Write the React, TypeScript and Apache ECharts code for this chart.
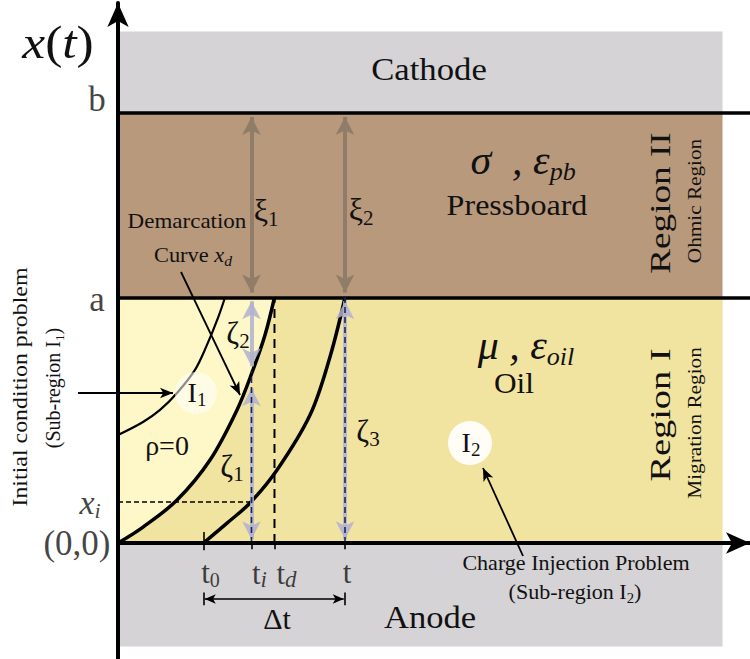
import React, { useEffect, useRef } from "react";
import * as echarts from "echarts";

// ---- data (physical diagram values) ----
const A_LEVEL = 1; // x = a  (oil / pressboard interface)
const B_LEVEL = 1.754; // x = b  (pressboard / cathode)
const CATHODE_TOP = 2.084;
const ANODE_BOTTOM = -0.422;
const REGION_END = 9.565;
const T_AXIS_MAX = 10;

const timeNames = ["t0", "ti", "td", "t"];
const timeValues = [1.353, 2.112, 2.476, 3.592];
const xiLevel = 0.167;

const demarcationT = [0, 0.396, 0.934, 1.456, 1.883, 2.136, 2.326, 2.476];
const demarcationX = [0, 0.065, 0.175, 0.338, 0.542, 0.705, 0.847, 1];

const chargeT = [1.353, 1.725, 2.089, 2.516, 3.038, 3.354, 3.592];
const chargeX = [0, 0.081, 0.163, 0.297, 0.521, 0.758, 1];

const rhoZeroT = [0, 0.396, 0.665, 0.934, 1.218, 1.408, 1.582, 1.693];
const rhoZeroX = [0.44, 0.493, 0.542, 0.611, 0.705, 0.807, 0.917, 1];

const xiArrowRange = [1.02, 1.735];
const zeta2Range = [0.72, 0.985];
const zeta1Range = [0.015, 0.63];
const zeta3Range = [0.015, 0.985];
const navyTiRange = [0, 0.7];
const navyTRange = [0, 1];
const deltaTLevel = -0.228;

// ---- layout ----
const W = 750;
const H = 659;
const GRID_LEFT = 118;
const GRID_TOP = 3;
const ORIGIN_Y = 543;
const UNIT_Y = 245.5;
const Y_MAX = (ORIGIN_Y - GRID_TOP) / UNIT_Y;
const Y_MIN = -(H - ORIGIN_Y) / UNIT_Y;

const SERIF = "'Liberation Serif', 'Times New Roman', serif";
const C = {
  gray: "#d5d3d5",
  brown: "#b9997b",
  oilDark: "#f1e4a0",
  oilLight: "#fef8c8",
  xi: "#8f7d6a",
  zeta: "rgba(176,178,206,0.85)",
  navy: "#1c2466",
  ink: "#111",
};

const zip = (a: number[], b: number[]) => a.map((v, i) => [v, b[i]]);

const subRich = (main: number, sub: number, italicMain = false, italicSub = false, drop = 0.7) => ({
  m: { fontSize: main, fontFamily: SERIF, fontStyle: italicMain ? "italic" : "normal", lineHeight: main + 6, color: C.ink },
  s: {
    fontSize: sub,
    fontFamily: SERIF,
    fontStyle: italicSub ? "italic" : "normal",
    verticalAlign: "bottom",
    lineHeight: Math.round(sub * drop),
    color: C.ink,
  },
  si: { fontSize: sub, fontFamily: SERIF, fontStyle: "italic", verticalAlign: "bottom", lineHeight: Math.round(sub * drop), color: C.ink },
  n: { fontSize: main, fontFamily: SERIF, lineHeight: main + 6, color: C.ink },
});

function txt(x: number, y: number, text: string, size: number, opts: any = {}) {
  return {
    type: "text",
    x,
    y,
    z: 100,
    rotation: opts.rotation || 0,
    scaleX: opts.scaleX || 1,
    style: {
      text,
      fill: C.ink,
      font: `${opts.italic ? "italic " : ""}${size}px ${SERIF}`,
      fontSize: size,
      fontFamily: SERIF,
      fontStyle: opts.italic ? "italic" : "normal",
      align: "center",
      verticalAlign: "middle",
      rich: opts.rich,
    },
  };
}

function buildOption() {
  const vSeg = (t: number, r: number[]) => [{ coord: [t, r[0]] }, { coord: [t, r[1]] }];
  const ROT = Math.PI / 2;

  const graphic: any[] = [
    txt(58, 42, "{i|x}{n|(}{i|t}{n|)}", 46, {
      scaleX: 1.12,
      rich: {
        i: { fontSize: 46, fontFamily: SERIF, fontStyle: "italic", color: C.ink },
        n: { fontSize: 46, fontFamily: SERIF, color: C.ink },
      },
    }),
    txt(429, 70, "Cathode", 31, { scaleX: 1.12 }),
    txt(430, 617, "Anode", 32, { scaleX: 1.08 }),
    txt(523, 160, "{m|σ  , ε}{s|pb}", 42, { rich: subRich(42, 26, true, true) }),
    txt(517, 205, "Pressboard", 30, { scaleX: 1.07 }),
    txt(526, 345, "{m|μ , ε}{s|oil}", 42, { rich: subRich(42, 26, true, true, 0.9) }),
    txt(514, 383, "Oil", 29, { scaleX: 1.08 }),
    txt(660, 203, "Region II", 30, { rotation: ROT, scaleX: 1.24 }),
    txt(695, 201, "Ohmic Region", 18, { rotation: ROT, scaleX: 1.18 }),
    txt(660, 415, "Region I", 30, { rotation: ROT, scaleX: 1.28 }),
    txt(695, 423, "Migration Region", 18, { rotation: ROT, scaleX: 1.18 }),
    txt(266, 210, "{m|ξ}{s|1}", 32, { rich: subRich(32, 21) }),
    txt(361, 209, "{m|ξ}{s|2}", 32, { rich: subRich(32, 21) }),
    txt(187, 222, "Demarcation", 20, { scaleX: 1.15 }),
    txt(193, 255, "{n|Curve }{m|x}{si|d}", 20, { scaleX: 1.12, rich: subRich(20, 14, true, true) }),
    txt(238, 333, "{m|ζ}{s|2}", 31, { rich: subRich(31, 21) }),
    txt(232, 466, "{m|ζ}{s|1}", 31, { rich: subRich(31, 21) }),
    txt(368, 431, "{m|ζ}{s|3}", 31, { rich: subRich(31, 21) }),
    txt(167, 445, "ρ=0", 28),
    {
      type: "circle",
      z: 90,
      shape: { cx: 196, cy: 393, r: 21 },
      style: { fill: "rgba(255,255,255,0.55)" },
    },
    txt(197, 392, "{m|I}{s|1}", 28, { rich: subRich(28, 19) }),
    {
      type: "circle",
      z: 90,
      shape: { cx: 470, cy: 443, r: 22 },
      style: { fill: "#fffdf5" },
    },
    txt(471, 442, "{m|I}{s|2}", 28, { rich: subRich(28, 19) }),
    txt(20, 387, "Initial condition problem", 21, { rotation: ROT, scaleX: 1.14 }),
    txt(53, 388, "{n|(Sub-region I}{s|1}{n|)}", 20, { rotation: ROT, rich: subRich(20, 13) }),
    txt(576, 563, "Charge Injection Problem", 21, { scaleX: 1.05 }),
    txt(575, 592, "{n|(Sub-region I}{s|2}{n|)}", 21, { scaleX: 1.05, rich: subRich(21, 14) }),
    txt(277, 618, "Δt", 30),
  ];

  const timeLabelFmt: Record<string, string> = {
    t0: "{m|t}{s|0}",
    ti: "{m|t}{si|i}",
    td: "{m|t}{si|d}",
    t: "{m|t}",
  };
  const timeLabelOffset: Record<string, number[]> = {
    t0: [7, 29],
    ti: [8, 30],
    td: [12, 30],
    t: [2, 29],
  };
  const labelRich = {
    m: { fontSize: 31, fontFamily: SERIF, lineHeight: 36, color: C.ink },
    s: { fontSize: 20, fontFamily: SERIF, verticalAlign: "bottom", lineHeight: 14, color: C.ink },
    si: { fontSize: 23, fontFamily: SERIF, fontStyle: "italic", verticalAlign: "bottom", lineHeight: 16, color: C.ink },
    it: { fontSize: 34, fontFamily: SERIF, fontStyle: "italic", lineHeight: 38, color: C.ink },
    bi: { fontSize: 22, fontFamily: SERIF, fontStyle: "italic", verticalAlign: "bottom", lineHeight: 15, color: C.ink },
    big: { fontSize: 35, fontFamily: SERIF, color: C.ink },
  };

  const labelData: any[] = [
    ...timeNames.map((n, i) => ({
      value: [timeValues[i], 0],
      label: { formatter: timeLabelFmt[n], offset: timeLabelOffset[n] },
    })),
    { value: [0, B_LEVEL], label: { formatter: "{big|b}", offset: [-21, -13] } },
    { value: [0, A_LEVEL], label: { formatter: "{big|a}", offset: [-21, 2] } },
    { value: [0, xiLevel], label: { formatter: "{it|x}{bi|i}", offset: [-28, 0] } },
    { value: [0, 0], label: { formatter: "{big|(0,0)}", offset: [-41, 0] } },
  ];

  const noLabel = { show: false };

  return {
    animation: false,
    backgroundColor: "#ffffff",
    grid: { left: GRID_LEFT, top: GRID_TOP, right: 0, bottom: 0, containLabel: false },
    xAxis: {
      type: "value",
      min: 0,
      max: T_AXIS_MAX,
      z: 10,
      axisLine: {
        show: true,
        onZero: true,
        symbol: ["none", "arrow"],
        symbolSize: [16, 24],
        lineStyle: { color: "#000", width: 4 },
      },
      axisTick: { show: false },
      axisLabel: { show: false },
      splitLine: { show: false },
    },
    yAxis: {
      type: "value",
      min: Y_MIN,
      max: Y_MAX,
      z: 10,
      axisLine: {
        show: true,
        onZero: true,
        symbol: ["none", "arrow"],
        symbolSize: [16, 24],
        lineStyle: { color: "#000", width: 4 },
      },
      axisTick: { show: false },
      axisLabel: { show: false },
      splitLine: { show: false },
    },
    graphic,
    series: [
      {
        name: "bands",
        type: "line",
        z: 1,
        silent: true,
        data: [[0, 0]],
        symbol: "none",
        lineStyle: { opacity: 0 },
        markArea: {
          silent: true,
          label: noLabel,
          data: [
            [{ coord: [0, B_LEVEL], itemStyle: { color: C.gray } }, { coord: [REGION_END, CATHODE_TOP] }],
            [{ coord: [0, A_LEVEL], itemStyle: { color: C.brown } }, { coord: [REGION_END, B_LEVEL] }],
            [{ coord: [0, 0], itemStyle: { color: C.oilLight } }, { coord: [REGION_END, A_LEVEL] }],
            [{ coord: [timeValues[2], 0], itemStyle: { color: C.oilDark } }, { coord: [REGION_END, A_LEVEL] }],
            [{ coord: [0, ANODE_BOTTOM], itemStyle: { color: C.gray } }, { coord: [REGION_END, 0] }],
          ],
        },
      },
      {
        name: "demarcation",
        type: "line",
        z: 3,
        silent: true,
        smooth: 0.35,
        symbol: "none",
        data: zip(demarcationT, demarcationX),
        lineStyle: { color: "#000", width: 3.5 },
        areaStyle: { color: C.oilDark, opacity: 1 },
      },
      {
        name: "rho0",
        type: "line",
        z: 4,
        silent: true,
        smooth: 0.35,
        symbol: "none",
        data: zip(rhoZeroT, rhoZeroX),
        lineStyle: { color: "#000", width: 2.2 },
      },
      {
        name: "charge",
        type: "line",
        z: 4,
        silent: true,
        smooth: 0.35,
        symbol: "none",
        data: zip(chargeT, chargeX),
        lineStyle: { color: "#000", width: 3.5 },
      },
      {
        name: "td-dash",
        type: "line",
        z: 4,
        silent: true,
        symbol: "none",
        data: [[timeValues[2], 0], [timeValues[2], A_LEVEL]],
        lineStyle: { color: "#000", width: 2, type: [9, 6] },
      },
      {
        name: "xi-dash",
        type: "line",
        z: 4,
        silent: true,
        symbol: "none",
        data: [[0, xiLevel], [timeValues[1], xiLevel]],
        lineStyle: { color: "#000", width: 1.6, type: [5, 3] },
      },
      {
        name: "electrodes",
        type: "line",
        z: 6,
        silent: true,
        data: [],
        markLine: {
          silent: true,
          symbol: ["none", "none"],
          label: noLabel,
          lineStyle: { color: "#000", width: 3.5, type: "solid" },
          data: [
            [{ coord: [0, A_LEVEL] }, { coord: [T_AXIS_MAX, A_LEVEL] }],
            [{ coord: [0, B_LEVEL] }, { coord: [T_AXIS_MAX, B_LEVEL] }],
          ],
        },
      },
      {
        name: "ticks",
        type: "line",
        z: 6,
        silent: true,
        data: [],
        markLine: {
          silent: true,
          symbol: ["none", "none"],
          label: noLabel,
          lineStyle: { color: "#000", width: 1.6, type: "solid" },
          data: [
            [{ coord: [timeValues[0], 0.045] }, { coord: [timeValues[0], -0.03] }],
            [{ coord: [timeValues[1], 0] }, { coord: [timeValues[1], -0.025] }],
            [{ coord: [timeValues[2], 0] }, { coord: [timeValues[2], -0.025] }],
            [{ coord: [timeValues[3], 0] }, { coord: [timeValues[3], -0.025] }],
            [{ coord: [timeValues[0], deltaTLevel + 0.026] }, { coord: [timeValues[0], deltaTLevel - 0.026] }],
            [{ coord: [timeValues[3], deltaTLevel + 0.026] }, { coord: [timeValues[3], deltaTLevel - 0.026] }],
          ],
        },
      },
      {
        name: "deltaT",
        type: "line",
        z: 6,
        silent: true,
        data: [],
        markLine: {
          silent: true,
          symbol: ["arrow", "arrow"],
          symbolSize: [7, 11],
          label: noLabel,
          lineStyle: { color: "#000", width: 1.5, type: "solid" },
          data: [[{ coord: [timeValues[0] + 0.02, deltaTLevel] }, { coord: [timeValues[3] - 0.02, deltaTLevel] }]],
        },
      },
      {
        name: "xi-arrows",
        type: "line",
        z: 5,
        silent: true,
        data: [],
        markLine: {
          silent: true,
          symbol: ["arrow", "arrow"],
          symbolSize: [14, 18],
          label: noLabel,
          lineStyle: { color: C.xi, width: 4, type: "solid", opacity: 1 },
          itemStyle: { color: C.xi },
          data: [vSeg(timeValues[1], xiArrowRange), vSeg(timeValues[3], xiArrowRange)],
        },
      },
      {
        name: "zeta-arrows",
        type: "line",
        z: 5,
        silent: true,
        data: [],
        markLine: {
          silent: true,
          symbol: ["arrow", "arrow"],
          symbolSize: [14, 18],
          label: noLabel,
          lineStyle: { color: C.zeta, width: 4, type: "solid", opacity: 1 },
          itemStyle: { color: C.zeta },
          data: [vSeg(timeValues[1], zeta2Range), vSeg(timeValues[1], zeta1Range), vSeg(timeValues[3], zeta3Range)],
        },
      },
      {
        name: "navy-ti",
        type: "line",
        z: 6,
        silent: true,
        symbol: "none",
        data: [[timeValues[1], navyTiRange[0]], [timeValues[1], navyTiRange[1]]],
        lineStyle: { color: C.navy, width: 1.6, type: [6, 4] },
      },
      {
        name: "navy-t",
        type: "line",
        z: 6,
        silent: true,
        symbol: "none",
        data: [[timeValues[3], navyTRange[0]], [timeValues[3], navyTRange[1]]],
        lineStyle: { color: C.navy, width: 1.6, type: [6, 4] },
      },
      {
        name: "annotation-arrows",
        type: "line",
        z: 7,
        silent: true,
        data: [],
        markLine: {
          silent: true,
          symbol: ["none", "arrow"],
          symbolSize: [8, 13],
          label: noLabel,
          lineStyle: { color: "#000", width: 1.8, type: "solid" },
          data: [
            [{ x: 78, y: 393 }, { x: 173, y: 393 }],
            [{ x: 181, y: 272 }, { x: 240, y: 395 }],
            [{ x: 523, y: 556 }, { x: 483, y: 468 }],
          ],
        },
      },
      {
        name: "labels",
        type: "scatter",
        z: 8,
        silent: true,
        symbolSize: 0,
        data: labelData,
        label: {
          show: true,
          position: "inside",
          color: C.ink,
          fontFamily: SERIF,
          fontSize: 31,
          rich: labelRich,
        },
      },
    ],
  };
}

export default function App() {
  const ref = useRef<HTMLDivElement>(null);
  useEffect(() => {
    if (!ref.current) return;
    const chart = echarts.init(ref.current, null, { renderer: "svg" });
    chart.setOption(buildOption() as any);
    return () => chart.dispose();
  }, []);
  return (
    <div
      ref={ref}
      style={{ position: "fixed", left: 0, top: 0, width: W, height: H, background: "#fff" }}
    />
  );
}
